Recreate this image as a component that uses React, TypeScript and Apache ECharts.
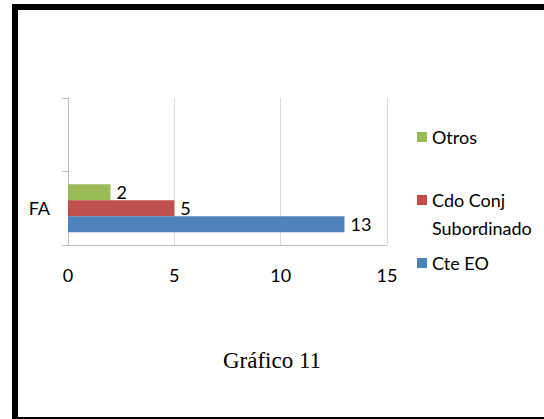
import React, { useEffect, useRef } from "react";
import * as echarts from "echarts";

const categories = ["FA", ""];
const seriesNames = ["Otros", "Cdo Conj Subordinado", "Cte EO"];
const otros = [2, null];
const cdoConj = [5, null];
const cteEO = [13, null];
const xTicks = { min: 0, max: 15, interval: 5 };
const title = "Gráfico 11";

const COLORS = ["#9BBB59", "#C0504D", "#4F81BD"];
const FONT = "Lato";

export default function App() {
  const ref = useRef<HTMLDivElement>(null);
  useEffect(() => {
    if (!ref.current) return;
    const chart = echarts.init(ref.current, null, { renderer: "svg" });
    const values = [otros, cdoConj, cteEO];
    const legendBase = {
      orient: "vertical" as const,
      left: 417,
      padding: 0,
      itemWidth: 10,
      itemHeight: 10,
      icon: "rect",
      selectedMode: false,
    };
    chart.setOption({
      animation: false,
      backgroundColor: "#ffffff",
      grid: { left: 68, right: 157, top: 98, bottom: 174, containLabel: false },
      xAxis: {
        type: "value",
        min: xTicks.min,
        max: xTicks.max,
        interval: xTicks.interval,
        axisLine: { show: true, lineStyle: { color: "#bfbfbf", width: 1 } },
        axisTick: { show: false },
        splitLine: { show: true, lineStyle: { color: "#d9d9d9", width: 1 } },
        axisLabel: { fontFamily: FONT, fontSize: 18, color: "#000", margin: 21 },
      },
      yAxis: {
        type: "category",
        data: categories,
        axisLine: { show: true, lineStyle: { color: "#bfbfbf", width: 1 } },
        axisTick: { show: true, length: 6, lineStyle: { color: "#bfbfbf" } },
        axisLabel: { fontFamily: FONT, fontSize: 18, color: "#000", margin: 18 },
        splitLine: { show: false },
      },
      legend: [
        {
          ...legendBase,
          top: 126,
          data: [seriesNames[0]],
          textStyle: { fontFamily: FONT, fontSize: 18, color: "#000", lineHeight: 22 },
        },
        {
          ...legendBase,
          top: 186,
          itemHeight: 38,
          icon: "path://M0,0h10v10h-10zM0,38L0.01,38",
          data: [seriesNames[1]],
          formatter: () => "Cdo Conj\nSubordinado",
          textStyle: { fontFamily: FONT, fontSize: 18, color: "#000", lineHeight: 28 },
        },
        {
          ...legendBase,
          top: 252,
          data: [seriesNames[2]],
          textStyle: { fontFamily: FONT, fontSize: 18, color: "#000", lineHeight: 22 },
        },
      ],
      series: seriesNames.map((name, i) => ({
        type: "bar",
        name,
        data: values[i],
        barWidth: 16,
        barGap: "0%",
        itemStyle: { color: COLORS[i] },
        label: {
          show: true,
          position: "right",
          distance: 6,
          fontFamily: FONT,
          fontSize: 18,
          color: "#000",
        },
      })),
      graphic: [
        { type: "rect", shape: { x: 12, y: 4, width: 6, height: 415 }, style: { fill: "#000" } },
        { type: "rect", shape: { x: 12, y: 4, width: 532, height: 6 }, style: { fill: "#000" } },
        { type: "rect", shape: { x: 12, y: 417, width: 532, height: 2 }, style: { fill: "#000" } },
        {
          type: "text",
          x: 272,
          y: 360,
          style: {
            text: title,
            fontFamily: "Liberation Serif",
            fontSize: 23,
            fill: "#000",
            align: "center",
            verticalAlign: "middle",
          },
        },
      ],
    });
    return () => chart.dispose();
  }, []);
  return (
    <div
      ref={ref}
      style={{ position: "absolute", left: 0, top: 0, width: 544, height: 419 }}
    />
  );
}
